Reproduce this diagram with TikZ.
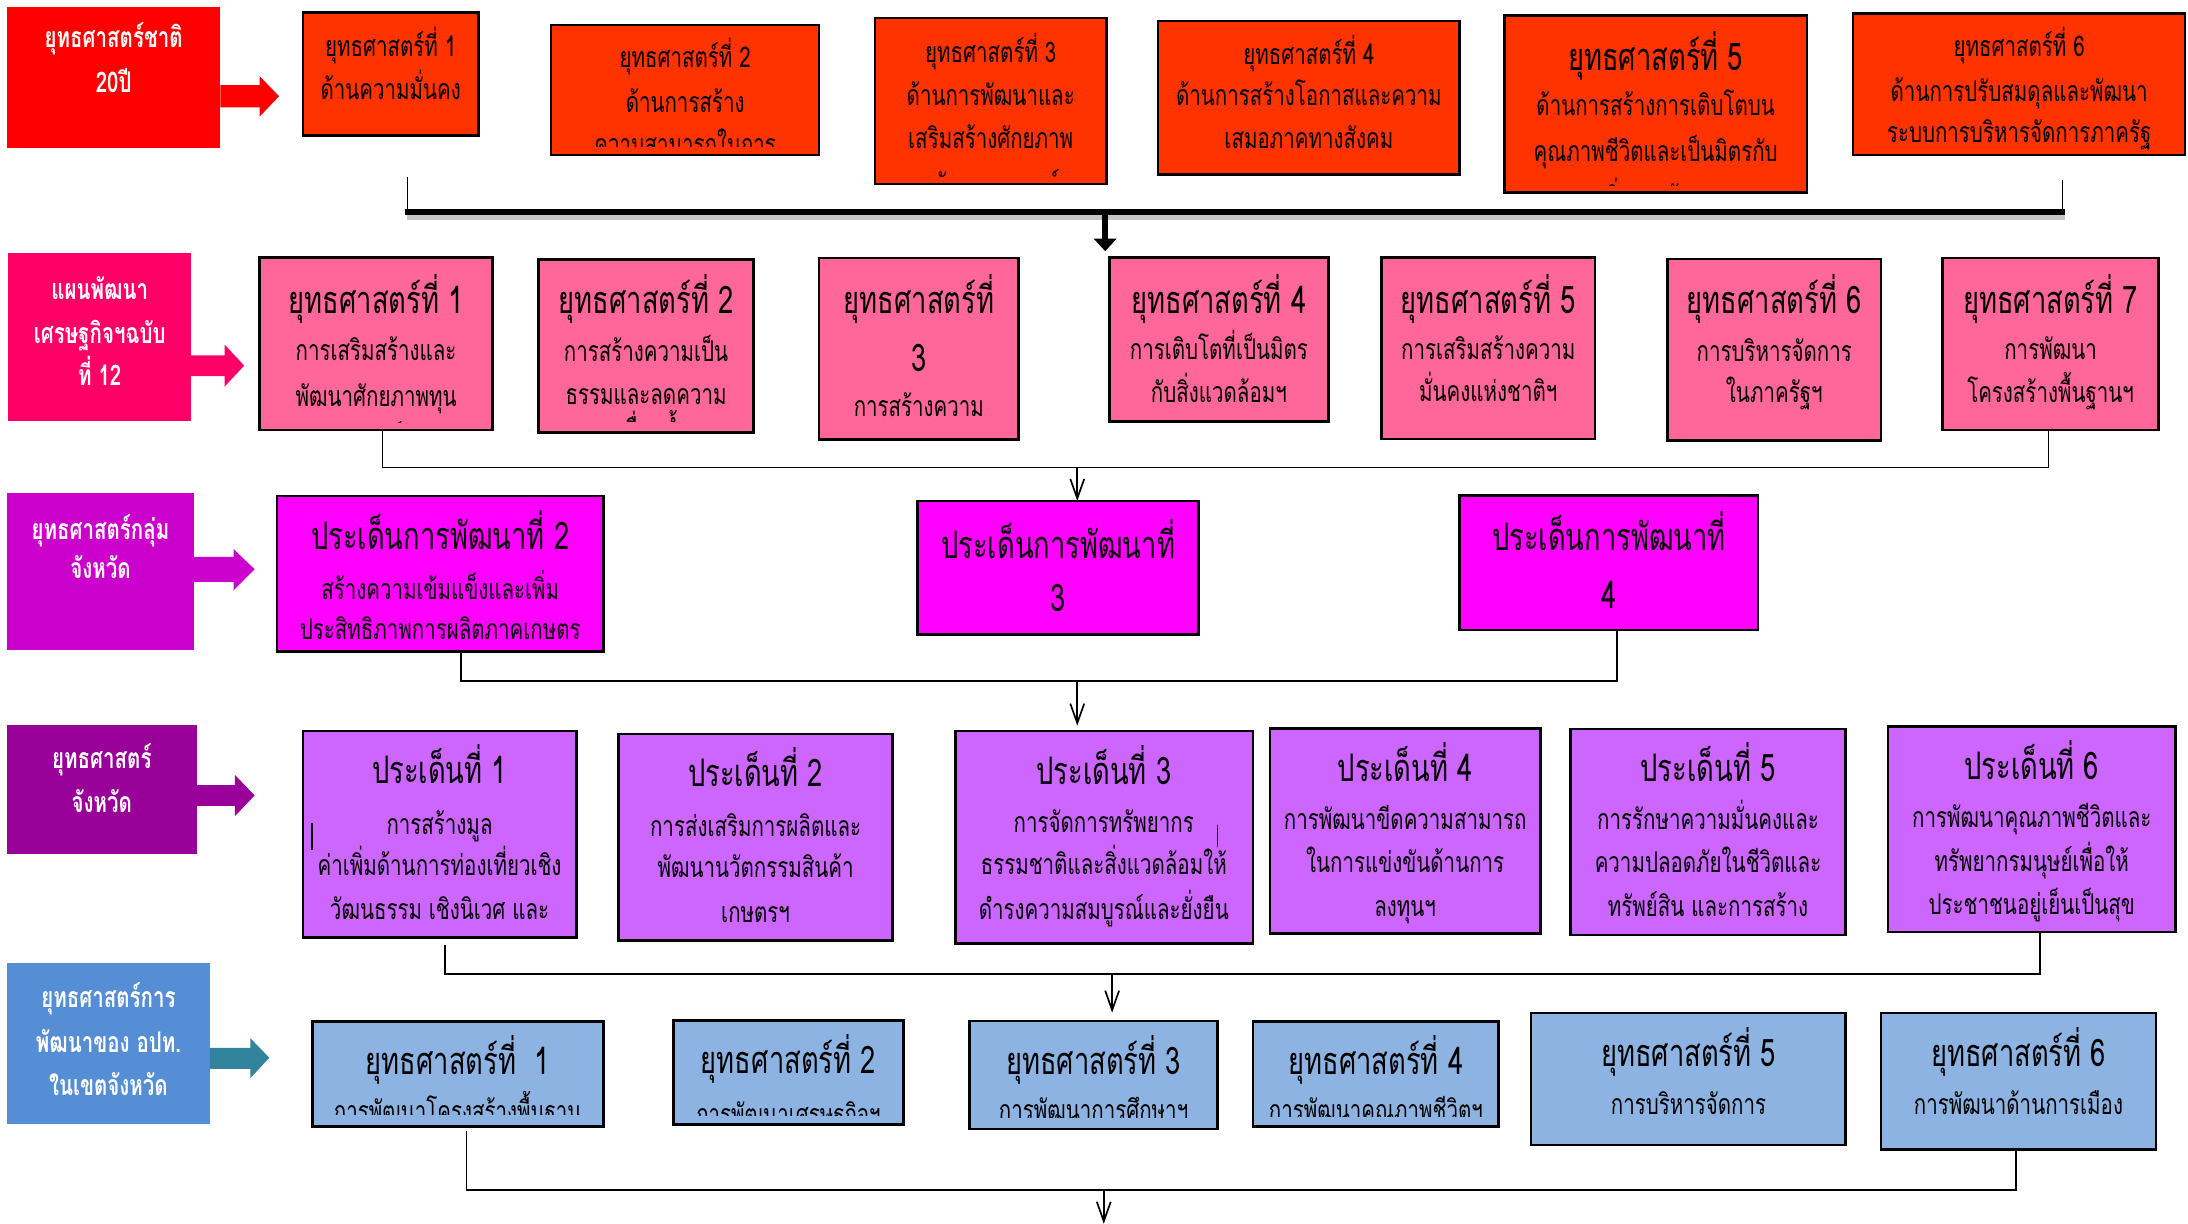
\documentclass[tikz,border=0pt]{standalone}
\usepackage{fontspec}
\newfontfamily\thai[Script=Thai,FakeStretch=0.72]{Loma}
\usetikzlibrary{fit,arrows.meta}
\definecolor{labA}{HTML}{FF0000}\definecolor{boxA}{HTML}{FF3300}
\definecolor{labB}{HTML}{FF0066}\definecolor{boxB}{HTML}{FF6699}
\definecolor{labC}{HTML}{CC00CC}\definecolor{boxC}{HTML}{FF00FF}
\definecolor{labD}{HTML}{990099}\definecolor{boxD}{HTML}{CC66FF}
\definecolor{labE}{HTML}{558ED5}\definecolor{boxE}{HTML}{8DB3E2}\definecolor{arrE}{HTML}{31849B}
\newcommand\bx[6]{\node[#2, fit={(#3,#4) (#5,#6)}] (#1) {};}
\newcommand\tl[5]{\node[#2] (#1) at (#3,#4) {#5};}
\begin{document}
\begin{tikzpicture}[x=0.5pt,y=-0.5pt,
  lab/.style={inner sep=0pt, outer sep=0pt, draw=none},
  bxs/.style={inner sep=0pt, outer sep=0pt, draw=black, line width=0.9pt},
  bodyt/.style={font=\thai\fontsize{10.2}{12}\selectfont, anchor=mid, inner sep=0pt, yshift=-1.2pt},
  titlet/.style={font=\thai\fontsize{13.6}{16}\selectfont, anchor=mid, inner sep=0pt, yshift=-2pt},
  labt/.style={font=\thai\bfseries\fontsize{10.2}{12}\selectfont, text=white, anchor=mid, inner sep=0pt, yshift=-1pt},
  ln/.style={line width=0.6pt},
  arr/.style={-{Straight Barb[length=7pt,width=5pt]}},
]
\useasboundingbox (0,0) rectangle (1568,877);
\fill[white] (0,0) rectangle (1568,877);

% ---------------- Row 1
\bx{L1}{lab,fill=labA}{5}{5}{158}{106}
\tl{L1a}{labt}{81.5}{28}{ยุทธศาสตร์ชาติ}
\tl{L1b}{labt}{81.5}{60}{20ปี}
\fill[labA] (158,61) -- (186,61) -- (186,54.5) -- (200,69) -- (186,83.6) -- (186,77) -- (158,77) -- cycle;

\bx{S1}{bxs,fill=boxA}{217}{9}{343}{97}
\tl{S1a}{bodyt}{280}{33.5}{ยุทธศาสตร์ที่ 1}
\tl{S1b}{bodyt}{280}{64.5}{ด้านความมั่นคง}

\bx{S2}{bxs,fill=boxA}{395}{18}{587}{111}
\begin{scope}\clip (395,18) rectangle (587,105);
\tl{S2a}{bodyt}{491}{42}{ยุทธศาสตร์ที่ 2}
\tl{S2b}{bodyt}{491}{74}{ด้านการสร้าง}
\tl{S2c}{bodyt}{491}{104}{ความสามารถในการ}
\end{scope}

\bx{S3}{bxs,fill=boxA}{627}{13}{793}{132}
\begin{scope}\clip (627,13) rectangle (793,127);
\tl{S3a}{bodyt}{710}{38}{ยุทธศาสตร์ที่ 3}
\tl{S3b}{bodyt}{710}{69}{ด้านการพัฒนาและ}
\tl{S3c}{bodyt}{710}{100}{เสริมสร้างศักยภาพ}
\tl{S3d}{bodyt}{710}{133}{ทรัพยากรมนุษย์}
\end{scope}

\bx{S4}{bxs,fill=boxA}{830}{15}{1046}{125}
\tl{S4a}{bodyt}{938}{39.4}{ยุทธศาสตร์ที่ 4}
\tl{S4b}{bodyt}{938}{69}{ด้านการสร้างโอกาสและความ}
\tl{S4c}{bodyt}{938}{100}{เสมอภาคทางสังคม}

\bx{S5}{bxs,fill=boxA}{1078}{11}{1295}{138}
\begin{scope}\clip (1078,11) rectangle (1295,133);
\tl{S5a}{titlet}{1186.5}{42}{ยุทธศาสตร์ที่ 5}
\tl{S5b}{bodyt}{1186.5}{76}{ด้านการสร้างการเติบโตบน}
\tl{S5c}{bodyt}{1186.5}{109}{คุณภาพชีวิตและเป็นมิตรกับ}
\tl{S5d}{bodyt}{1186.5}{142}{สิ่งแวดล้อม}
\end{scope}

\bx{S6}{bxs,fill=boxA}{1328}{9.5}{1566}{111}
\tl{S6a}{bodyt}{1447}{33.5}{ยุทธศาสตร์ที่ 6}
\tl{S6b}{bodyt}{1447}{66}{ด้านการปรับสมดุลและพัฒนา}
\tl{S6c}{bodyt}{1447}{95.5}{ระบบการบริหารจัดการภาครัฐ}

\coordinate (t1l) at (292,127);
\coordinate (t1r) at (1478,129);
\coordinate (k1l) at (290,152);
\coordinate (k1r) at (1480,152);
\coordinate (k1a) at (792,152);
\coordinate (k1e) at (792,180);
\draw[gray!45, line width=2pt] (292,156) -- (1480,156);
\draw[line width=2.4pt] (k1l) -- (k1r);
\draw[ln] (t1l) -- (t1l |- k1l);
\draw[ln] (t1r) -- (t1r |- k1r);
\draw[line width=2pt, -{Triangle[length=4.5pt,width=8pt]}] (k1a) -- (k1e);

% ---------------- Row 2
\bx{L2}{lab,fill=labB}{6}{181}{137}{302}
\tl{L2a}{labt}{71.5}{208}{แผนพัฒนา}
\tl{L2b}{labt}{71.5}{240}{เศรษฐกิจฯฉบับ}
\tl{L2c}{labt}{71.5}{270}{ที่ 12}
\fill[labB] (137,254.6) -- (161,254.6) -- (161,247) -- (175,262) -- (161,277) -- (161,269.6) -- (137,269.6) -- cycle;

\bx{P1}{bxs,fill=boxB}{186}{184.7}{353}{308}
\begin{scope}\clip (186,184.7) rectangle (353,303);
\tl{P1a}{titlet}{269.5}{216}{ยุทธศาสตร์ที่ 1}
\tl{P1b}{bodyt}{269.5}{251.5}{การเสริมสร้างและ}
\tl{P1c}{bodyt}{269.5}{284.5}{พัฒนาศักยภาพทุน}
\tl{P1d}{bodyt}{269.5}{313}{มนุษย์}
\end{scope}

\bx{P2}{bxs,fill=boxB}{386}{186}{540}{310}
\begin{scope}\clip (386,186) rectangle (540,302);
\tl{P2a}{titlet}{463}{216}{ยุทธศาสตร์ที่ 2}
\tl{P2b}{bodyt}{463}{252}{การสร้างความเป็น}
\tl{P2c}{bodyt}{463}{283}{ธรรมและลดความ}
\tl{P2d}{bodyt}{463}{309}{เหลื่อมล้ำ}
\end{scope}

\bx{P3}{bxs,fill=boxB}{587}{185}{730}{315}
\tl{P3a}{titlet}{658.5}{216}{ยุทธศาสตร์ที่}
\tl{P3b}{titlet}{658.5}{258}{3}
\tl{P3c}{bodyt}{658.5}{292}{การสร้างความ}

\bx{P4}{bxs,fill=boxB}{795}{184.7}{952}{302}
\tl{P4a}{titlet}{873.5}{216}{ยุทธศาสตร์ที่ 4}
\tl{P4b}{bodyt}{873.5}{251}{การเติบโตที่เป็นมิตร}
\tl{P4c}{bodyt}{873.5}{282}{กับสิ่งแวดล้อมฯ}

\bx{P5}{bxs,fill=boxB}{990}{184.7}{1143}{314.5}
\tl{P5a}{titlet}{1066.5}{216}{ยุทธศาสตร์ที่ 5}
\tl{P5b}{bodyt}{1066.5}{251}{การเสริมสร้างความ}
\tl{P5c}{bodyt}{1066.5}{281}{มั่นคงแห่งชาติฯ}

\bx{P6}{bxs,fill=boxB}{1195}{185.6}{1348}{315.8}
\tl{P6a}{titlet}{1271.5}{216}{ยุทธศาสตร์ที่ 6}
\tl{P6b}{bodyt}{1271.5}{252}{การบริหารจัดการ}
\tl{P6c}{bodyt}{1271.5}{282}{ในภาครัฐฯ}

\bx{P7}{bxs,fill=boxB}{1392}{185}{1547}{308}
\tl{P7a}{titlet}{1469.5}{216}{ยุทธศาสตร์ที่ 7}
\tl{P7b}{bodyt}{1469.5}{251}{การพัฒนา}
\tl{P7c}{bodyt}{1469.5}{282}{โครงสร้างพื้นฐานฯ}

\coordinate (k2l) at (274,335);
\coordinate (k2r) at (1468,335);
\coordinate (k2a) at (772,335);
\draw[ln] (P1.south -| k2l) -- (k2l) -- (k2r) -- (P7.south -| k2r);

% ---------------- Row 3
\bx{L3}{lab,fill=labC}{5}{353.6}{139}{466}
\tl{L3a}{labt}{72}{380}{ยุทธศาสตร์กลุ่ม}
\tl{L3b}{labt}{72}{408.5}{จังหวัด}
\fill[labC] (139,399) -- (167.4,399) -- (167.4,393.5) -- (182.5,408) -- (167.4,423) -- (167.4,417) -- (139,417) -- cycle;

\bx{M1}{bxs,fill=boxC}{198.6}{355.6}{432.5}{467}
\tl{M1a}{titlet}{315.5}{385.8}{ประเด็นการพัฒนาที่ 2}
\tl{M1b}{bodyt}{315.5}{423}{สร้างความเข้มแข็งและเพิ่ม}
\tl{M1c}{bodyt}{315.5}{451.6}{ประสิทธิภาพการผลิตภาคเกษตร}

\bx{M2}{bxs,fill=boxC}{657.6}{359}{859}{454.6}
\tl{M2a}{titlet}{758.3}{392}{ประเด็นการพัฒนาที่}
\tl{M2b}{titlet}{758.3}{430}{3}

\bx{M3}{bxs,fill=boxC}{1046}{355}{1260}{451.5}
\tl{M3a}{titlet}{1153}{386}{ประเด็นการพัฒนาที่}
\tl{M3b}{titlet}{1153}{428}{4}

\draw[ln,arr] (k2a) -- (k2a |- M2.north);

\coordinate (k3l) at (330.3,488);
\coordinate (k3r) at (1159,488);
\coordinate (k3a) at (772,488);
\draw[ln] (M1.south -| k3l) -- (k3l) -- (k3r) -- (M3.south -| k3r);

% ---------------- Row 4
\bx{L4}{lab,fill=labD}{5}{519.6}{141}{612}
\tl{L4a}{labt}{73}{544.6}{ยุทธศาสตร์}
\tl{L4b}{labt}{73}{575.6}{จังหวัด}
\fill[labD] (141,562.6) -- (168.4,562.6) -- (168.4,555.4) -- (182.5,570) -- (168.4,584.8) -- (168.4,577.6) -- (141,577.6) -- cycle;

\bx{V1}{bxs,fill=boxD}{217}{524}{413}{672}
\tl{V1a}{titlet}{315}{553}{ประเด็นที่ 1}
\tl{V1b}{bodyt}{315}{591}{การสร้างมูล}
\tl{V1c}{bodyt}{315}{621}{ค่าเพิ่มด้านการท่องเที่ยวเชิง}
\tl{V1d}{bodyt}{315}{652}{วัฒนธรรม เชิงนิเวศ และ}
\draw[ln] (223.8,590) -- (223.8,609);

\bx{V2}{bxs,fill=boxD}{443.4}{526}{639.5}{674}
\tl{V2a}{titlet}{541.5}{555.6}{ประเด็นที่ 2}
\tl{V2b}{bodyt}{541.5}{592.5}{การส่งเสริมการผลิตและ}
\tl{V2c}{bodyt}{541.5}{622.3}{พัฒนานวัตกรรมสินค้า}
\tl{V2d}{bodyt}{541.5}{654.5}{เกษตรฯ}

\bx{V3}{bxs,fill=boxD}{684.7}{524}{897.8}{676}
\tl{V3a}{titlet}{791}{554}{ประเด็นที่ 3}
\tl{V3b}{bodyt}{791}{590}{การจัดการทรัพยากร}
\tl{V3c}{bodyt}{791}{620}{ธรรมชาติและสิ่งแวดล้อมให้}
\tl{V3d}{bodyt}{791}{652}{ดำรงความสมบูรณ์และยั่งยืน}
\draw[ln] (872.6,591) -- (872.6,607);

\bx{V4}{bxs,fill=boxD}{910}{522}{1104}{669}
\tl{V4a}{titlet}{1007}{552}{ประเด็นที่ 4}
\tl{V4b}{bodyt}{1007}{587.6}{การพัฒนาขีดความสามารถ}
\tl{V4c}{bodyt}{1007}{618.5}{ในการแข่งขันด้านการ}
\tl{V4d}{bodyt}{1007}{650}{ลงทุนฯ}

\bx{V5}{bxs,fill=boxD}{1125.5}{522.3}{1322.6}{670}
\tl{V5a}{titlet}{1224}{552}{ประเด็นที่ 5}
\tl{V5b}{bodyt}{1224}{587.6}{การรักษาความมั่นคงและ}
\tl{V5c}{bodyt}{1224}{618.5}{ความปลอดภัยในชีวิตและ}
\tl{V5d}{bodyt}{1224}{650}{ทรัพย์สิน และการสร้าง}

\bx{V6}{bxs,fill=boxD}{1353}{520.8}{1559}{668}
\tl{V6a}{titlet}{1456}{550}{ประเด็นที่ 6}
\tl{V6b}{bodyt}{1456}{586}{การพัฒนาคุณภาพชีวิตและ}
\tl{V6c}{bodyt}{1456}{617.5}{ทรัพยากรมนุษย์เพื่อให้}
\tl{V6d}{bodyt}{1456}{648.6}{ประชาชนอยู่เย็นเป็นสุข}

\draw[ln,arr,shorten >=2pt] (k3a) -- (k3a |- V3.north);

\coordinate (k4l) at (319,698);
\coordinate (k4r) at (1462,698);
\coordinate (k4a) at (797,698);
\draw[ln] (V1.south -| k4l) ++(0,5) -- (k4l) -- (k4r) -- (V6.south -| k4r);

% ---------------- Row 5
\bx{L5}{lab,fill=labE}{5}{690}{150.4}{805.5}
\tl{L5a}{labt}{77.7}{715.4}{ยุทธศาสตร์การ}
\tl{L5b}{labt}{77.7}{747.6}{พัฒนาของ อปท.}
\tl{L5c}{labt}{77.7}{779}{ในเขตจังหวัด}
\fill[arrE] (150.4,751) -- (179.4,751) -- (179.4,744) -- (193,758) -- (179.4,772.6) -- (179.4,766) -- (150.4,766) -- cycle;

\bx{B1}{bxs,fill=boxE}{223.8}{732}{432.5}{807.4}
\begin{scope}\clip (223.8,732) rectangle (432.5,799);
\tl{B1a}{titlet}{328}{762}{ยุทธศาสตร์ที่~~1}
\tl{B1b}{bodyt}{328}{797}{การพัฒนาโครงสร้างพื้นฐาน}
\end{scope}

\bx{B2}{bxs,fill=boxE}{482.6}{731.5}{647.5}{806}
\begin{scope}\clip (482.6,731.5) rectangle (647.5,799.5);
\tl{B2a}{titlet}{565}{761}{ยุทธศาสตร์ที่ 2}
\tl{B2b}{bodyt}{565}{799}{การพัฒนาเศรษฐกิจฯ}
\end{scope}

\bx{B3}{bxs,fill=boxE}{694.8}{731.7}{872.6}{809}
\begin{scope}\clip (694.8,731.7) rectangle (872.6,801);
\tl{B3a}{titlet}{783.7}{762}{ยุทธศาสตร์ที่ 3}
\tl{B3b}{bodyt}{783.7}{796.5}{การพัฒนาการศึกษาฯ}
\end{scope}

\bx{B4}{bxs,fill=boxE}{897.8}{732}{1074}{807.4}
\begin{scope}\clip (897.8,732) rectangle (1074,800);
\tl{B4a}{titlet}{986}{762}{ยุทธศาสตร์ที่ 4}
\tl{B4b}{bodyt}{986}{796.5}{การพัฒนาคุณภาพชีวิตฯ}
\end{scope}

\bx{B5}{bxs,fill=boxE}{1097}{726}{1322.6}{820.6}
\tl{B5a}{titlet}{1210}{756}{ยุทธศาสตร์ที่ 5}
\tl{B5b}{bodyt}{1210}{792}{การบริหารจัดการ}

\bx{B6}{bxs,fill=boxE}{1348}{726}{1545}{823.6}
\tl{B6a}{titlet}{1446.5}{756}{ยุทธศาสตร์ที่ 6}
\tl{B6b}{bodyt}{1446.5}{792}{การพัฒนาด้านการเมือง}

\draw[ln,arr,shorten >=3pt] (k4a) -- (k4a |- B3.north);

\coordinate (k5l) at (334.3,853);
\coordinate (k5r) at (1444.8,853);
\coordinate (k5a) at (791,853);
\coordinate (k5e) at (791,877);
\draw[ln] (B1.south -| k5l) ++(0,3) -- (k5l) -- (k5r) -- (B6.south -| k5r);
\draw[ln,arr] (k5a) -- (k5e);
\end{tikzpicture}
\end{document}
